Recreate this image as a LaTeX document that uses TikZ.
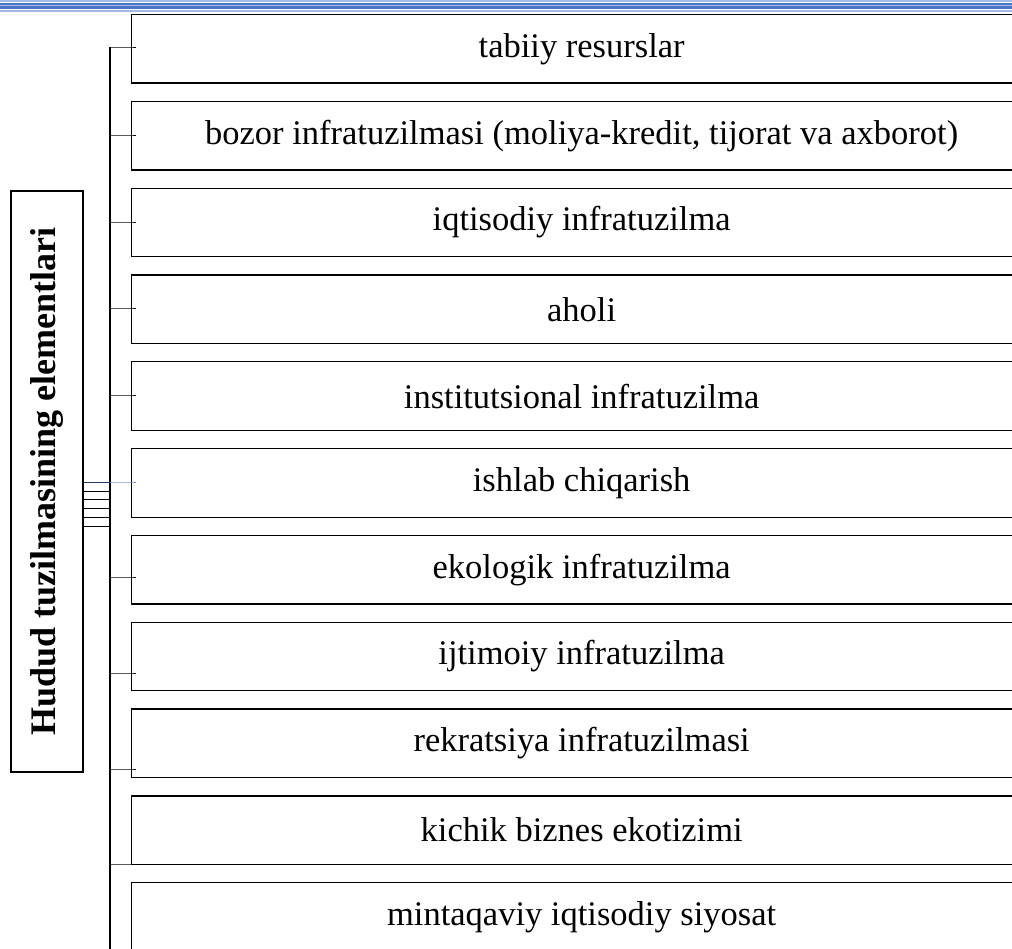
\documentclass[tikz,border=0pt]{standalone}
\usepackage{fontspec}
\setmainfont{Liberation Serif}
\definecolor{hdrblue}{HTML}{4A76C8}
\definecolor{hdrlight}{HTML}{A3BAE6}
\definecolor{navy}{HTML}{1F3864}
\definecolor{tickblue}{HTML}{7A96CC}
\begin{document}
\begin{tikzpicture}[x=1pt,y=-1pt,
  elem/.style={draw,line width=1.3pt,minimum width=900pt,minimum height=68.5pt,anchor=north west,inner sep=0pt,font=\fontsize{34.5}{40}\selectfont},
  tick/.style={line width=0.8pt}]
  \clip (0,0) rectangle (1012,949);
  % header rule of the page
  \fill[hdrlight] (0,0) rectangle (1012,1.6);
  \fill[hdrblue] (0,2.7) rectangle (1012,8.6);
  \fill[hdrlight] (0,5.2) rectangle (1012,6.3);
  \fill[hdrlight] (0,9.8) rectangle (1012,11.8);
  % left box
  \node[draw,line width=1.2pt,minimum width=581pt,minimum height=72pt,inner sep=0pt,rotate=90,font=\bfseries\fontsize{36}{42}\selectfont] (hudud) at (47,481.5) {Hudud tuzilmasining elementlari};
  % elements
  \node[elem] (b1) at (131,14) {tabiiy resurslar};
  \node[elem] (b2) at (131,100.8) {bozor infratuzilmasi (moliya-kredit, tijorat va axborot)};
  \node[elem] (b3) at (131,187.6) {iqtisodiy infratuzilma};
  \node[elem] (b4) at (131,274.4) {aholi};
  \node[elem] (b5) at (131,361.2) {institutsional infratuzilma};
  \node[elem] (b6) at (131,448) {ishlab chiqarish};
  \node[elem] (b7) at (131,534.8) {ekologik infratuzilma};
  \node[elem] (b8) at (131,621.6) {ijtimoiy infratuzilma};
  \node[elem] (b9) at (131,708.4) {rekratsiya infratuzilmasi};
  \node[elem] (b10) at (131,795.2) {kichik biznes ekotizimi};
  \node[elem] (b11) at (131,882) {mintaqaviy iqtisodiy siyosat};
  % trunk
  \coordinate (t1) at (110,47);
  \coordinate (t2) at (110,135);
  \coordinate (t3) at (110,222);
  \coordinate (t4) at (110,308);
  \coordinate (t5) at (110,395);
  \coordinate (t6) at (110,482);
  \coordinate (t7) at (110,577);
  \coordinate (t8) at (110,673);
  \coordinate (t9) at (110,769);
  \coordinate (t10) at (110,864);
  \coordinate (tend) at (110,949);
  \draw[line width=1.1pt] (t1) -- (tend);
  \foreach \i in {1,2,3,4,5,7,8,9,10}
    \draw[tick] (t\i) -- (t\i -| b\i.west) -- ++(5,0);
  \draw[tick,tickblue] (t6) -- (t6 -| b6.west) -- ++(5,0);
  \draw[tick,navy] (t6) -- (t6 -| hudud.south);
  \foreach \y in {491,499.5,508,517,526}
    \draw[tick] (hudud.south |- 0,\y) -- (110,\y);
\end{tikzpicture}
\end{document}
